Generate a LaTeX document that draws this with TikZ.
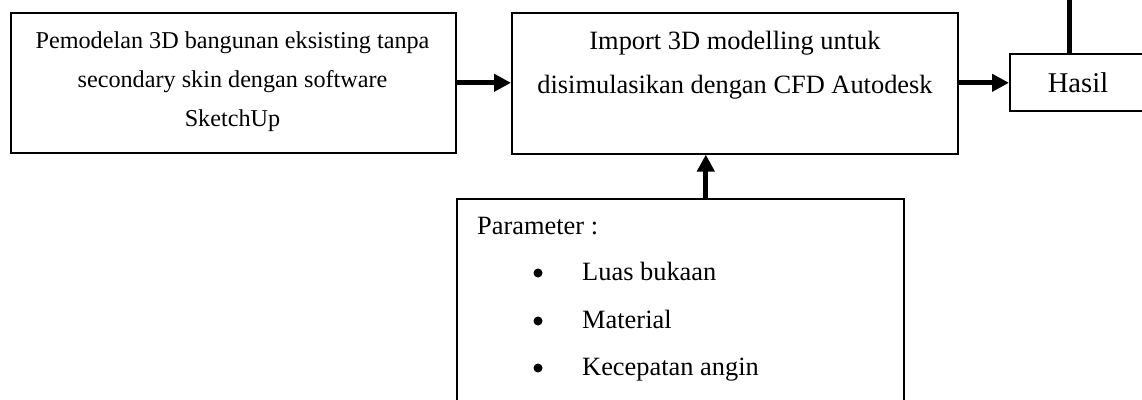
\documentclass[tikz,border=0pt]{standalone}
\usepackage{fontspec}
\setmainfont{Liberation Serif}
\usetikzlibrary{arrows.meta,calc}
\begin{document}
\begin{tikzpicture}[x=1pt,y=1pt,
  box/.style={draw=black,line width=1.6pt,rectangle,inner sep=0pt,anchor=north west},
  thick arrow/.style={line width=5pt,-{Triangle[length=17pt,width=17pt]}},
  fa/.style={font=\fontsize{24.2}{29}\selectfont,anchor=base,inner sep=0pt},
  fb/.style={font=\fontsize{26.4}{31}\selectfont,anchor=base,inner sep=0pt},
  fbw/.style={fb,anchor=base west},
  fc/.style={font=\fontsize{28.6}{34}\selectfont,anchor=base,inner sep=0pt},
  dot/.style={circle,fill=black,inner sep=0pt,minimum size=9pt}]
\clip (0,0) rectangle (1142,-399);
% boxes
\node[box,minimum width=445pt,minimum height=140pt] (b1) at (10,-12) {};
\node[box,minimum width=446pt,minimum height=141pt] (b2) at (511,-12) {};
\node[box,minimum width=150pt,minimum height=57pt] (hasil) at (1009,-53) {};
\node[box,minimum width=447pt,minimum height=220pt] (b3) at (456,-198) {};
% texts
\node[fa] (t1a) at (232.5,-48) {Pemodelan 3D bangunan eksisting tanpa};
\node[fa] (t1b) at (232.5,-87) {secondary skin dengan software};
\node[fa] (t1c) at (232.5,-126) {SketchUp};
\node[fb] (t2a) at (735,-49) {Import 3D modelling untuk};
\node[fb] (t2b) at (735,-93) {disimulasikan dengan CFD Autodesk};
\node[fc] (th) at (1078,-92) {Hasil};
\node[fbw] (t3) at (477,-234) {Parameter :};
\node[dot] (d1) at (538,-273) {};
\node[dot] (d2) at (538,-321) {};
\node[dot] (d3) at (538,-368) {};
\node[fbw] (i1) at (582,-280.5) {Luas bukaan};
\node[fbw] (i2) at (582,-328) {Material};
\node[fbw] (i3) at (582,-375) {Kecepatan angin};
% connectors
\draw[thick arrow] (b1.east) -- (b1.east -| b2.west);
\draw[thick arrow] ($(b2.east)+(0,0.5)$) -- ($(b2.east -| hasil.west)+(0,0.5)$);
\draw[thick arrow] ([xshift=25.5pt]b3.north) -- ([xshift=25.5pt]b3.north |- b2.south);
\coordinate (top) at (1069,5);
\draw[line width=5pt] (top) -- (top |- hasil.north);
\end{tikzpicture}
\end{document}
